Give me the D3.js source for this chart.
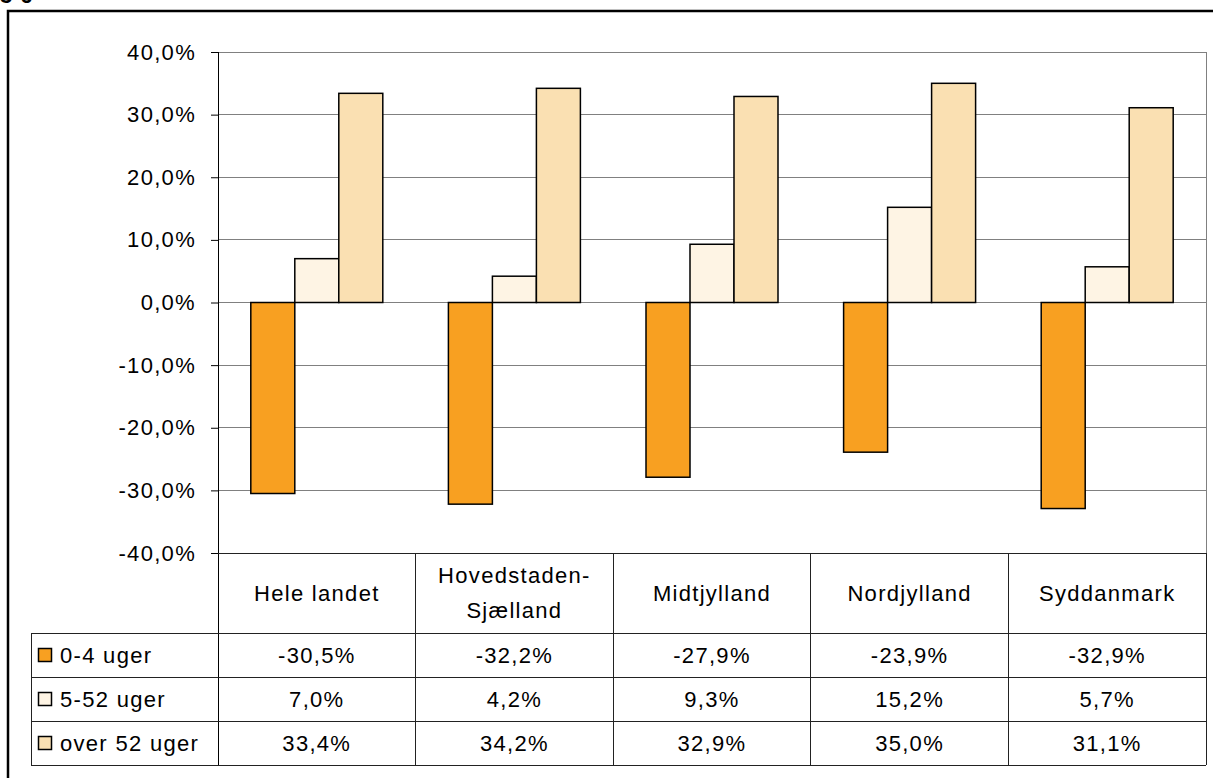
<!DOCTYPE html>
<html><head><meta charset="utf-8">
<script src="https://cdn.jsdelivr.net/npm/d3@7"></script>
<style>
html,body{margin:0;padding:0;background:#fff;overflow:hidden;}
text{font-family:"Liberation Sans",Arial,sans-serif;font-size:22px;letter-spacing:1.3px;fill:#000;}
</style></head>
<body>
<svg id="chart" width="1213" height="778"></svg>
<script>
const categories = ["Hele landet", "Hovedstaden-\nSjælland", "Midtjylland", "Nordjylland", "Syddanmark"];
const seriesNames = ["0-4 uger", "5-52 uger", "over 52 uger"];
const series0to4 = [-30.5, -32.2, -27.9, -23.9, -32.9];
const series5to52 = [7.0, 4.2, 9.3, 15.2, 5.7];
const seriesOver52 = [33.4, 34.2, 32.9, 35.0, 31.1];
const yTicks = [-40, -30, -20, -10, 0, 10, 20, 30, 40];
const colors = ["#F8A021", "#FEF4E4", "#FAE0B2"];

const seriesValues = [series0to4, series5to52, seriesOver52];
const locale = d3.formatLocale({decimal: ",", thousands: ".", grouping: [3], currency: ["", " kr"], minus: "-"});
const fmt = v => locale.format(".1f")(v) + "%";

const svg = d3.select("#chart");
const L = 218, R = 1206, T = 52, B = 553;
const rowTops = [553, 633, 677, 721, 765];
const legendLeft = 31;

// outer border
svg.append("rect").attr("x", 8).attr("y", 11).attr("width", 1230).attr("height", 800)
  .attr("fill", "none").attr("stroke", "#000").attr("stroke-width", 2.5);

// cut-off title fragment at the top (as in the reference)
svg.append("text").attr("x", 0).attr("y", 3).style("font-weight", "bold").style("letter-spacing", "8px").text("36");

const y = d3.scaleLinear().domain([-40, 40]).range([B, T]);
const x = d3.scaleBand().domain(categories).range([L, R]).paddingInner(0.332).paddingOuter(0.166);
const xs = d3.scaleBand().domain(seriesNames).range([0, x.bandwidth()]);

// gridlines
svg.append("g").selectAll("line").data(yTicks.filter(t => t !== -40)).join("line")
  .attr("x1", L).attr("x2", R).attr("y1", d => y(d)).attr("y2", d => y(d))
  .attr("stroke", "#808080").attr("stroke-width", 1).attr("shape-rendering", "crispEdges");
// plot right border
svg.append("line").attr("x1", R).attr("x2", R).attr("y1", T).attr("y2", B)
  .attr("stroke", "#808080").attr("shape-rendering", "crispEdges");

// bars
const groups = svg.append("g").selectAll("g").data(categories).join("g")
  .attr("transform", d => `translate(${x(d)},0)`);
groups.selectAll("rect").data((d, i) => seriesNames.map((s, j) => ({s, j, v: seriesValues[j][i]}))).join("rect")
  .attr("x", d => xs(d.s)).attr("width", xs.bandwidth())
  .attr("y", d => y(Math.max(0, d.v))).attr("height", d => Math.abs(y(d.v) - y(0)))
  .attr("fill", d => colors[d.j]).attr("stroke", "#000").attr("stroke-width", 1.5);

// y axis
const yAxis = d3.axisLeft(y).tickValues(yTicks).tickFormat(fmt).tickSize(7).tickPadding(15);
const ga = svg.append("g").attr("transform", `translate(${L},0)`).call(yAxis);
ga.select(".domain").remove();
ga.selectAll(".tick line").attr("stroke", "#000");
ga.selectAll(".tick text").attr("font-size", null).attr("font-family", null).style("font-size", "22px");
svg.append("line").attr("x1", L).attr("x2", L).attr("y1", T).attr("y2", rowTops[4])
  .attr("stroke", "#000").attr("shape-rendering", "crispEdges");

// data table
const tg = svg.append("g");
const step = x.step();
const colEdges = d3.range(categories.length + 1).map(i => L + i * step);
tg.selectAll("line.v").data(colEdges.slice(1)).join("line")
  .attr("x1", d => d).attr("x2", d => d).attr("y1", B).attr("y2", rowTops[4])
  .attr("stroke", "#222").attr("shape-rendering", "crispEdges");
tg.append("line").attr("x1", L).attr("x2", R).attr("y1", B).attr("y2", B).attr("stroke", "#222").attr("shape-rendering", "crispEdges");
tg.selectAll("line.h").data(rowTops.slice(1)).join("line")
  .attr("x1", legendLeft).attr("x2", R).attr("y1", d => d).attr("y2", d => d)
  .attr("stroke", "#222").attr("shape-rendering", "crispEdges");
tg.append("line").attr("x1", legendLeft).attr("x2", legendLeft).attr("y1", rowTops[1]).attr("y2", rowTops[4])
  .attr("stroke", "#222").attr("shape-rendering", "crispEdges");

// category labels
categories.forEach((c, i) => {
  const lines = c.split("\n");
  const cx = L + (i + 0.5) * step;
  const cy = (rowTops[0] + rowTops[1]) / 2;
  const lh = 35;
  lines.forEach((ln, k) => {
    tg.append("text").attr("x", cx).attr("y", cy + (k - (lines.length - 1) / 2) * lh)
      .attr("text-anchor", "middle").attr("dy", "0.35em").text(ln);
  });
});

// series rows
seriesNames.forEach((s, j) => {
  const cy = (rowTops[j + 1] + rowTops[j + 2]) / 2;
  tg.append("rect").attr("x", 38.5).attr("y", cy - 6.5).attr("width", 13).attr("height", 13)
    .attr("fill", colors[j]).attr("stroke", "#000").attr("stroke-width", 1.5);
  tg.append("text").attr("x", 60).attr("y", cy).attr("dy", "0.35em").text(s);
  seriesValues[j].forEach((v, i) => {
    tg.append("text").attr("x", L + (i + 0.5) * step).attr("y", cy).attr("dy", "0.35em")
      .attr("text-anchor", "middle").text(fmt(v));
  });
});
</script>
</body></html>
